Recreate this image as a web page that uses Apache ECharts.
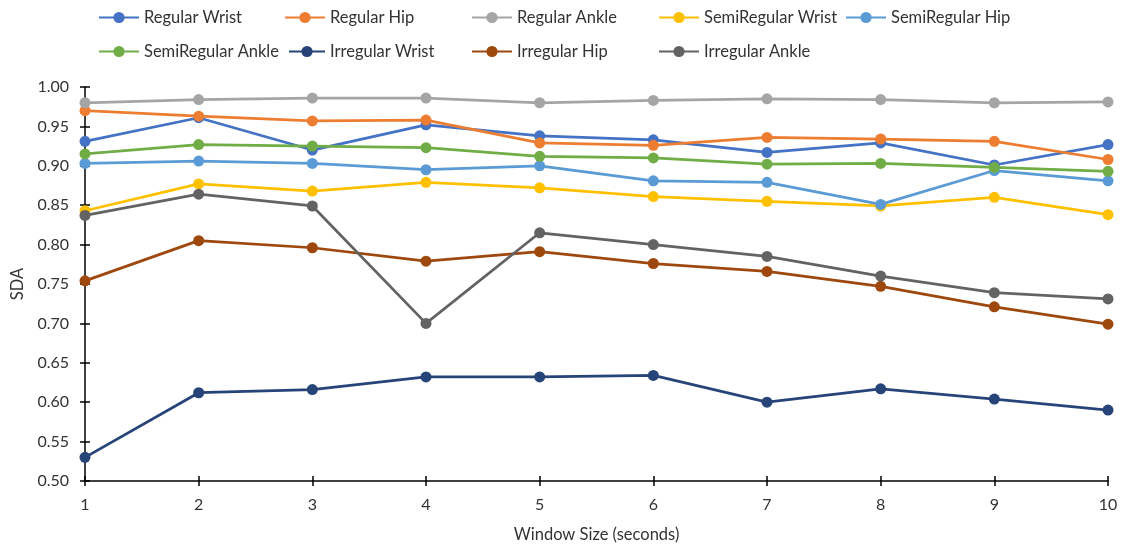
<!DOCTYPE html>
<html>
<head>
<meta charset="utf-8">
<script src="https://cdn.jsdelivr.net/npm/echarts@6/dist/echarts.min.js"></script>
<style>
  html, body { margin: 0; padding: 0; background: #fff; }
  #chart { width: 1122px; height: 550px; }
</style>
</head>
<body>
<div id="chart"></div>
<script>
// Window sizes in seconds
const windowSizes = [1, 2, 3, 4, 5, 6, 7, 8, 9, 10];

// SDA per sensor placement and activity type
const regularWrist      = [0.931, 0.961, 0.920, 0.952, 0.938, 0.933, 0.917, 0.929, 0.901, 0.927];
const regularHip        = [0.970, 0.963, 0.957, 0.958, 0.929, 0.926, 0.936, 0.934, 0.931, 0.908];
const regularAnkle      = [0.980, 0.984, 0.986, 0.986, 0.980, 0.983, 0.985, 0.984, 0.980, 0.981];
const semiRegularWrist  = [0.843, 0.877, 0.868, 0.879, 0.872, 0.861, 0.855, 0.849, 0.860, 0.838];
const semiRegularHip    = [0.903, 0.906, 0.903, 0.895, 0.900, 0.881, 0.879, 0.851, 0.894, 0.881];
const semiRegularAnkle  = [0.915, 0.927, 0.925, 0.923, 0.912, 0.910, 0.902, 0.903, 0.898, 0.893];
const irregularWrist    = [0.530, 0.612, 0.616, 0.632, 0.632, 0.634, 0.600, 0.617, 0.604, 0.590];
const irregularHip      = [0.754, 0.805, 0.796, 0.779, 0.791, 0.776, 0.766, 0.747, 0.721, 0.699];
const irregularAnkle    = [0.837, 0.864, 0.849, 0.700, 0.815, 0.800, 0.785, 0.760, 0.739, 0.731];

const yTicks = { min: 0.5, max: 1.0, step: 0.05 };

const seriesDefs = [
  { name: 'Regular Wrist',     data: regularWrist,     color: '#4472C4' },
  { name: 'Regular Hip',       data: regularHip,       color: '#ED7D31' },
  { name: 'Regular Ankle',     data: regularAnkle,     color: '#A5A5A5' },
  { name: 'SemiRegular Wrist', data: semiRegularWrist, color: '#FFC000' },
  { name: 'SemiRegular Hip',   data: semiRegularHip,   color: '#5B9BD5' },
  { name: 'SemiRegular Ankle', data: semiRegularAnkle, color: '#70AD47' },
  { name: 'Irregular Wrist',   data: irregularWrist,   color: '#264478' },
  { name: 'Irregular Hip',     data: irregularHip,     color: '#9E480E' },
  { name: 'Irregular Ankle',   data: irregularAnkle,   color: '#636363' }
];

// Legend slots: two rows, fixed columns (icon left edge, row top, icon width)
const legendSlots = [
  [98, 9, 40], [284, 9, 40], [471, 9, 40], [658, 9, 40], [845, 9, 40],
  [98, 43, 40], [288, 43, 36], [471, 43, 40], [658, 43, 40]
];

const FONT = 'Lato, "Open Sans", sans-serif';
const TEXT = '#333333';

const chart = echarts.init(document.getElementById('chart'), null, { renderer: 'canvas' });

const axisLine = { show: true, lineStyle: { color: '#000', width: 1.5 } };
const tickStyle = { color: '#000', width: 1.5 };

const option = {
  backgroundColor: '#fff',
  animation: false,
  legend: seriesDefs.map((s, i) => ({
    data: [s.name],
    left: legendSlots[i][0],
    top: legendSlots[i][1],
    itemWidth: legendSlots[i][2],
    itemHeight: 14,
    itemGap: 4,
    padding: 0,
    textStyle: { fontFamily: FONT, fontSize: 16.5, color: TEXT }
  })),
  grid: { left: 85, right: 14, top: 87, bottom: 69, containLabel: false },
  xAxis: [
    {
      type: 'value',
      min: windowSizes[0], max: windowSizes[windowSizes.length - 1], interval: 1,
      name: 'Window Size (seconds)',
      nameLocation: 'middle',
      nameGap: 45,
      nameTextStyle: { fontFamily: FONT, fontSize: 16.5, color: TEXT },
      axisLine: axisLine,
      axisTick: { show: true, inside: false, length: 5, lineStyle: tickStyle },
      axisLabel: { fontFamily: FONT, fontSize: 16, color: TEXT, margin: 16 },
      splitLine: { show: false }
    },
    {
      type: 'value', position: 'bottom',
      min: windowSizes[0], max: windowSizes[windowSizes.length - 1], interval: 1,
      axisLine: { show: false },
      axisTick: { show: true, inside: true, length: 5, lineStyle: tickStyle },
      axisLabel: { show: false },
      splitLine: { show: false }
    }
  ],
  yAxis: [
    {
      type: 'value',
      min: yTicks.min, max: yTicks.max, interval: yTicks.step,
      name: 'SDA',
      nameLocation: 'middle',
      nameGap: 58,
      nameRotate: 90,
      nameTextStyle: { fontFamily: FONT, fontSize: 16.5, color: TEXT },
      axisLine: axisLine,
      axisTick: { show: true, inside: false, length: 5, lineStyle: tickStyle },
      axisLabel: { fontFamily: FONT, fontSize: 16, color: TEXT, margin: 16,
                   formatter: v => v.toFixed(2) },
      splitLine: { show: false }
    },
    {
      type: 'value', position: 'left',
      min: yTicks.min, max: yTicks.max, interval: yTicks.step,
      axisLine: { show: false },
      axisTick: { show: true, inside: true, length: 5, lineStyle: tickStyle },
      axisLabel: { show: false },
      splitLine: { show: false }
    }
  ],
  series: seriesDefs.map(s => ({
    name: s.name,
    type: 'line',
    data: s.data.map((v, i) => [windowSizes[i], v]),
    symbol: 'circle',
    symbolSize: 11,
    showSymbol: true,
    lineStyle: { color: s.color, width: 2.75 },
    itemStyle: { color: s.color, borderWidth: 0 },
    emphasis: { disabled: true }
  }))
};

chart.setOption(option);
</script>
</body>
</html>
